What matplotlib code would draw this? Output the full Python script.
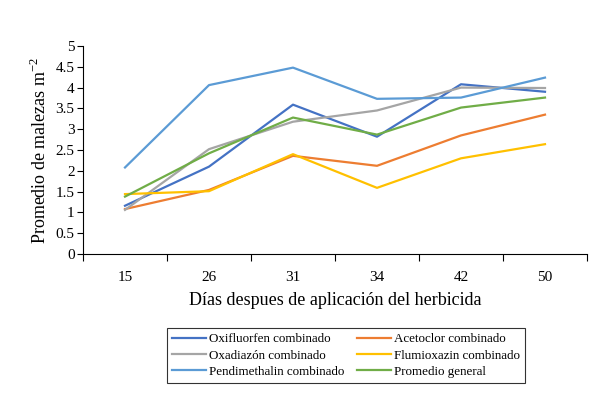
import matplotlib
matplotlib.use("Agg")
import matplotlib.pyplot as plt

plt.rcParams['font.family'] = ['Liberation Serif', 'DejaVu Serif']
plt.rcParams['mathtext.fontset'] = 'custom'
plt.rcParams['mathtext.rm'] = 'Liberation Serif'

days = ["15", "26", "31", "34", "42", "50"]
oxifluorfen = [1.16, 2.10, 3.59, 2.82, 4.08, 3.90]
acetoclor = [1.08, 1.54, 2.36, 2.12, 2.85, 3.35]
oxadiazon = [1.06, 2.52, 3.18, 3.45, 4.00, 3.99]
flumioxazin = [1.44, 1.51, 2.40, 1.59, 2.30, 2.64]
pendimethalin = [2.08, 4.06, 4.48, 3.73, 3.76, 4.24]
promedio = [1.38, 2.42, 3.28, 2.87, 3.52, 3.76]

series = [
    ("Oxifluorfen combinado", oxifluorfen, "#4472C4"),
    ("Acetoclor combinado", acetoclor, "#ED7D31"),
    ("Oxadiazón combinado", oxadiazon, "#A5A5A5"),
    ("Flumioxazin combinado", flumioxazin, "#FFC000"),
    ("Pendimethalin combinado", pendimethalin, "#5B9BD5"),
    ("Promedio general", promedio, "#70AD47"),
]

fig = plt.figure(figsize=(6.08, 3.96), dpi=100)
ax = fig.add_axes([83/608, 1-254/396, 504/608, 208/396])

x = list(range(len(days)))
handles = {}
for name, vals, col in series:
    h, = ax.plot(x, vals, color=col, lw=1.6, label=name)
    handles[name] = h

ax.set_xlim(-0.5, len(days) - 0.5)
ax.set_ylim(0, 5)
ax.set_yticks([i * 0.5 for i in range(11)])
ax.set_yticklabels(["0", "0.5", "1", "1.5", "2", "2.5", "3", "3.5", "4", "4.5", "5"])
ax.set_xticks(x)
ax.set_xticklabels(days)
ax.set_xticks([i - 0.5 for i in range(len(days) + 1)], minor=True)
ax.tick_params(axis='x', which='major', length=0, pad=12, labelsize=11)
ax.tick_params(axis='x', which='minor', length=5, width=0.8, direction='out')
ax.tick_params(axis='y', length=4, width=0.8, labelsize=11, pad=2)
for s in ['top', 'right']:
    ax.spines[s].set_visible(False)
for s in ['left', 'bottom']:
    ax.spines[s].set_linewidth(0.8)

ax.set_xlabel("Días despues de aplicación del herbicida", fontsize=13, labelpad=6)
ax.set_ylabel("Promedio de malezas m$^{-2}$", fontsize=13, labelpad=4)

order = ["Oxifluorfen combinado", "Oxadiazón combinado", "Pendimethalin combinado",
         "Acetoclor combinado", "Flumioxazin combinado", "Promedio general"]
leg = fig.legend([handles[n] for n in order], order, ncol=2, fontsize=9.4,
                 loc='upper left', bbox_to_anchor=(167/608, 1-328/396),
                 frameon=True, fancybox=False, edgecolor='black',
                 handlelength=2.6, handletextpad=0.25, columnspacing=0.9,
                 labelspacing=0.32, borderpad=0.4, borderaxespad=0)
leg.get_frame().set_linewidth(0.8)

fig.savefig("out.png", dpi=100)
